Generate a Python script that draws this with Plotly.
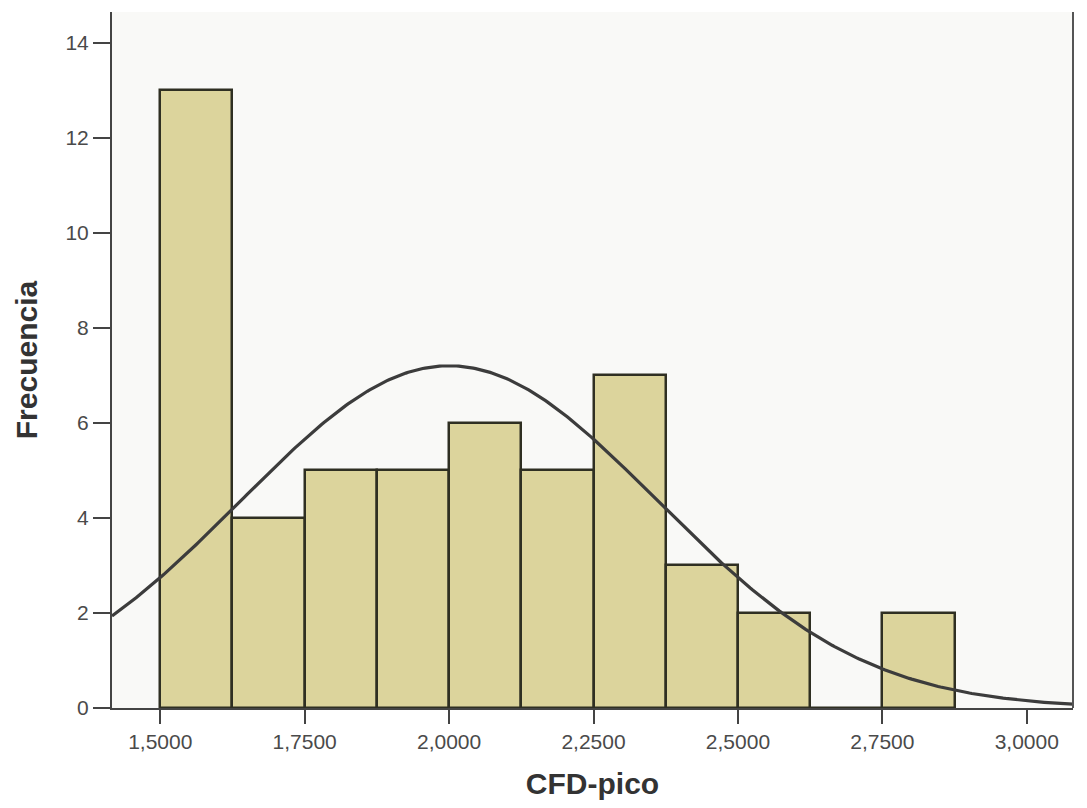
import numpy as np
import plotly.graph_objects as go

# ---- data ----
bin_starts = [1.500, 1.625, 1.750, 1.875, 2.000, 2.125, 2.250, 2.375, 2.500, 2.625, 2.750]
counts = [13, 4, 5, 5, 6, 5, 7, 3, 2, 0, 2]
bin_width = 0.125
x_tick_vals = [1.5, 1.75, 2.0, 2.25, 2.5, 2.75, 3.0]
x_tick_text = ["1,5000", "1,7500", "2,0000", "2,2500", "2,5000", "2,7500", "3,0000"]
y_tick_vals = [0, 2, 4, 6, 8, 10, 12, 14]
# fitted normal curve parameters (as SPSS overlays)
mean_val = 2.0
std_dev = 0.36
n_total = sum(counts)

x_range = [1.4165, 3.08]
y_range = [0, 14.65]

centers = [b + bin_width / 2 for b in bin_starts]

xs = np.linspace(x_range[0], x_range[1], 400)
ys = n_total * bin_width / (std_dev * np.sqrt(2 * np.pi)) * np.exp(-0.5 * ((xs - mean_val) / std_dev) ** 2)

fig = go.Figure()
fig.add_trace(go.Bar(
    x=centers, y=counts, width=bin_width,
    marker=dict(color="#dcd49c", line=dict(color="#2f2f22", width=2.5)),
    showlegend=False, hoverinfo="x+y",
))
fig.add_trace(go.Scatter(
    x=xs, y=ys, mode="lines",
    line=dict(color="#3c3c3c", width=3.2),
    showlegend=False, hoverinfo="skip",
))

fig.update_layout(
    width=1087, height=808,
    margin=dict(l=112, r=14, t=12, b=100),
    paper_bgcolor="#ffffff",
    plot_bgcolor="#f9f9f7",
    bargap=0,
    font=dict(family="Liberation Sans, Arial, sans-serif", color="#444444"),
    xaxis=dict(
        range=x_range, tickvals=x_tick_vals, ticktext=x_tick_text,
        showgrid=False, zeroline=False, showline=True, linecolor="#444444", linewidth=2,
        ticks="outside", ticklen=14, tickwidth=2, tickcolor="#444444",
        tickfont=dict(size=21, color="#4a4a4a"),
        title=dict(text="<b>CFD-pico</b>", font=dict(size=30, color="#333333"), standoff=21),
    ),
    yaxis=dict(
        range=y_range, tickvals=y_tick_vals,
        showgrid=False, zeroline=False, showline=True, linecolor="#444444", linewidth=2,
        ticks="outside", ticklen=17, tickwidth=2, tickcolor="#444444",
        tickfont=dict(size=21, color="#4a4a4a"),
        title=dict(text="<b>Frecuencia</b>", font=dict(size=30, color="#333333"), standoff=19),
    ),
    shapes=[dict(type="line", xref="paper", yref="paper", x0=1, x1=1, y0=0, y1=1,
                 line=dict(color="#555555", width=2))],
)

fig.write_html("out.html")
